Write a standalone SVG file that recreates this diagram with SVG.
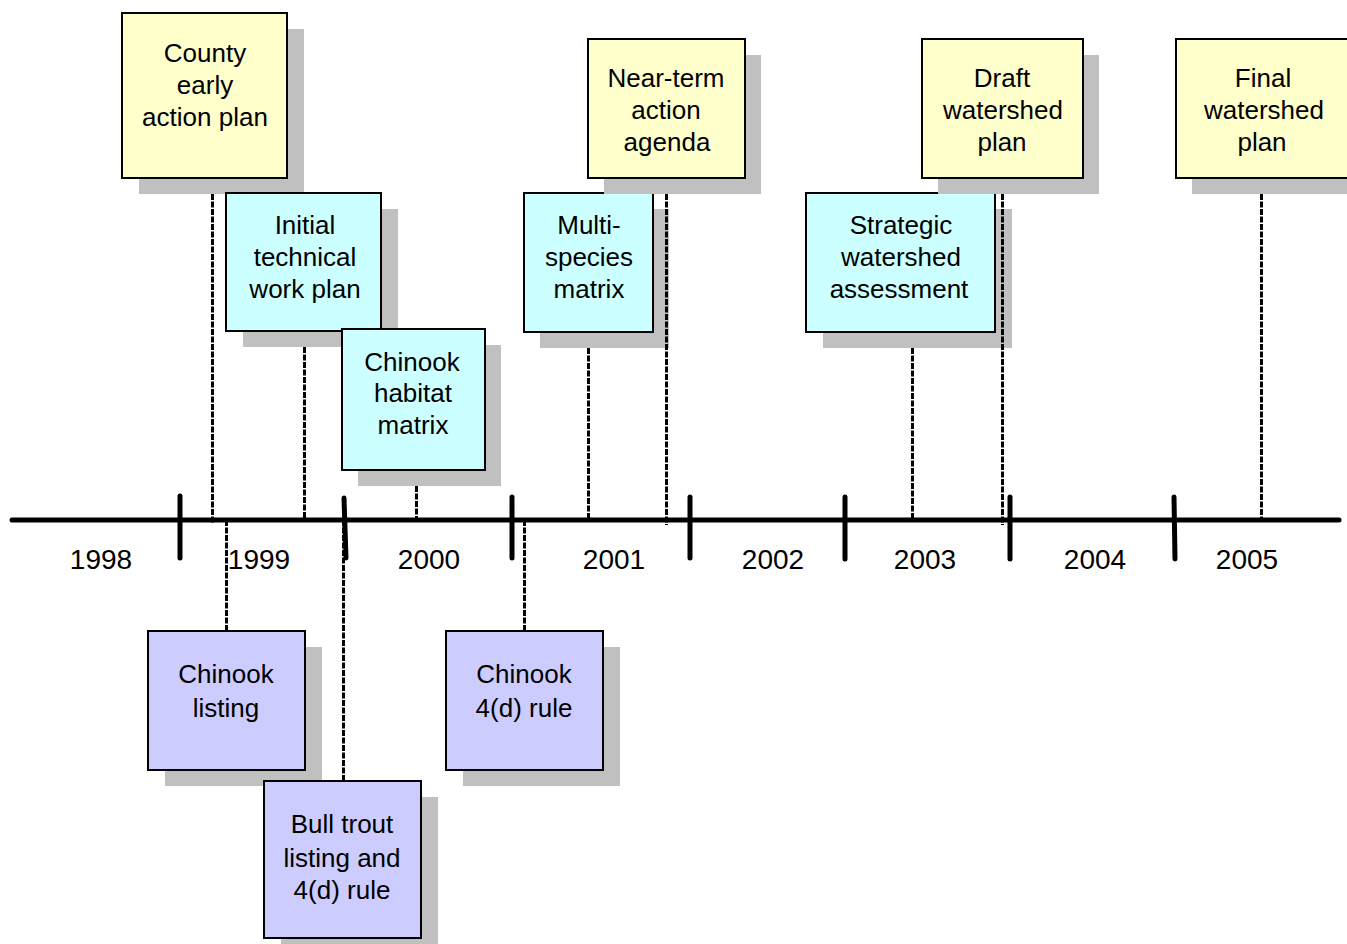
<svg xmlns="http://www.w3.org/2000/svg" width="1347" height="944" viewBox="0 0 1347 944">
<style>
.sh{fill:#C0C0C0}
.box{stroke:#000;stroke-width:2}
.y{fill:#FFFFCC}.c{fill:#CCFFFF}.p{fill:#CCCCFF}
.t{font-family:"Liberation Sans",Arial,sans-serif;font-size:26px;text-anchor:middle;fill:#000}
.yr{font-family:"Liberation Sans",Arial,sans-serif;font-size:28px;text-anchor:middle;fill:#000}
.d{stroke:#000;stroke-width:3;stroke-dasharray:6 1.5;fill:none}
.ax{stroke:#000;stroke-width:5;stroke-linecap:round;fill:none}
</style>
<rect width="1347" height="944" fill="#fff"/>
<g id="timeline">
<line class="ax" x1="12" y1="520" x2="1339" y2="520"/>
<line class="ax" x1="180" y1="496" x2="180" y2="558"/>
<line class="ax" x1="344" y1="498" x2="346" y2="558"/>
<line class="ax" x1="512" y1="497" x2="512" y2="558"/>
<line class="ax" x1="690" y1="497" x2="690" y2="558"/>
<line class="ax" x1="845" y1="497" x2="845" y2="559"/>
<line class="ax" x1="1010" y1="497" x2="1010" y2="559"/>
<line class="ax" x1="1174" y1="497" x2="1175" y2="559"/>
<text class="yr" x="101" y="569">1998</text>
<text class="yr" x="259" y="569">1999</text>
<text class="yr" x="429" y="569">2000</text>
<text class="yr" x="614" y="569">2001</text>
<text class="yr" x="773" y="569">2002</text>
<text class="yr" x="925" y="569">2003</text>
<text class="yr" x="1095" y="569">2004</text>
<text class="yr" x="1247" y="569">2005</text>
</g>
<g id="county">
<rect class="sh" x="139" y="29" width="165" height="165"/>
<rect class="box y" x="122" y="13" width="165" height="165"/>
<text class="t" x="205" y="62">County</text>
<text class="t" x="205" y="94">early</text>
<text class="t" x="205" y="126">action plan</text>
</g>
<g id="initial">
<rect class="sh" x="243" y="209" width="155" height="138"/>
<rect class="box c" x="226" y="193" width="155" height="138"/>
<text class="t" x="305" y="234">Initial</text>
<text class="t" x="305" y="266">technical</text>
<text class="t" x="305" y="298">work plan</text>
</g>
<g id="habitat">
<rect class="sh" x="358" y="345" width="143" height="141"/>
<rect class="box c" x="342" y="329" width="143" height="141"/>
<text class="t" x="412" y="371">Chinook</text>
<text class="t" x="413" y="402">habitat</text>
<text class="t" x="413" y="434">matrix</text>
</g>
<g id="multi">
<rect class="sh" x="540" y="209" width="129" height="139"/>
<rect class="box c" x="524" y="193" width="129" height="139"/>
<text class="t" x="589" y="234">Multi-</text>
<text class="t" x="589" y="266">species</text>
<text class="t" x="589" y="298">matrix</text>
</g>
<g id="nearterm">
<rect class="sh" x="604" y="55" width="157" height="139"/>
<rect class="box y" x="588" y="39" width="157" height="139"/>
<text class="t" x="666" y="87">Near-term</text>
<text class="t" x="666" y="119">action</text>
<text class="t" x="667" y="151">agenda</text>
</g>
<g id="strategic">
<rect class="sh" x="823" y="209" width="189" height="139"/>
<rect class="box c" x="806" y="193" width="189" height="139"/>
<text class="t" x="901" y="234">Strategic</text>
<text class="t" x="901" y="266">watershed</text>
<text class="t" x="899" y="298">assessment</text>
</g>
<g id="draft">
<rect class="sh" x="938" y="55" width="161" height="139"/>
<rect class="box y" x="922" y="39" width="161" height="139"/>
<text class="t" x="1002" y="87">Draft</text>
<text class="t" x="1003" y="119">watershed</text>
<text class="t" x="1002" y="151">plan</text>
</g>
<g id="final">
<rect class="sh" x="1192" y="55" width="180" height="139"/>
<rect class="box y" x="1176" y="39" width="190" height="139"/>
<text class="t" x="1263" y="87">Final</text>
<text class="t" x="1264" y="119">watershed</text>
<text class="t" x="1262" y="151">plan</text>
</g>
<g id="chinooklisting">
<rect class="sh" x="165" y="647" width="157" height="139"/>
<rect class="box p" x="148" y="631" width="157" height="139"/>
<text class="t" x="226" y="683">Chinook</text>
<text class="t" x="226" y="717">listing</text>
</g>
<g id="bulltrout">
<rect class="sh" x="281" y="797" width="157" height="160"/>
<rect class="box p" x="264" y="781" width="157" height="157"/>
<text class="t" x="342" y="833">Bull trout</text>
<text class="t" x="342" y="867">listing and</text>
<text class="t" x="342" y="899">4(d) rule</text>
</g>
<g id="chinook4d">
<rect class="sh" x="463" y="647" width="157" height="139"/>
<rect class="box p" x="446" y="631" width="157" height="139"/>
<text class="t" x="524" y="683">Chinook</text>
<text class="t" x="524" y="717">4(d) rule</text>
</g>
<g id="connectors">
<line class="d" x1="212.5" y1="194" x2="212.5" y2="524"/>
<line class="d" x1="304.5" y1="347" x2="304.5" y2="522"/>
<line class="d" x1="416.5" y1="486" x2="416.5" y2="520"/>
<line class="d" x1="588.5" y1="348" x2="588.5" y2="520"/>
<line class="d" x1="666.5" y1="194" x2="666.5" y2="525"/>
<line class="d" x1="912.5" y1="348" x2="912.5" y2="520"/>
<line class="d" x1="1002.5" y1="194" x2="1002.5" y2="525"/>
<line class="d" x1="1261.5" y1="194" x2="1261.5" y2="520"/>
<line class="d" x1="226.5" y1="520" x2="226.5" y2="630"/>
<line class="d" x1="343.5" y1="520" x2="343.5" y2="780"/>
<line class="d" x1="524.5" y1="520" x2="524.5" y2="630"/>
</g>
</svg>
